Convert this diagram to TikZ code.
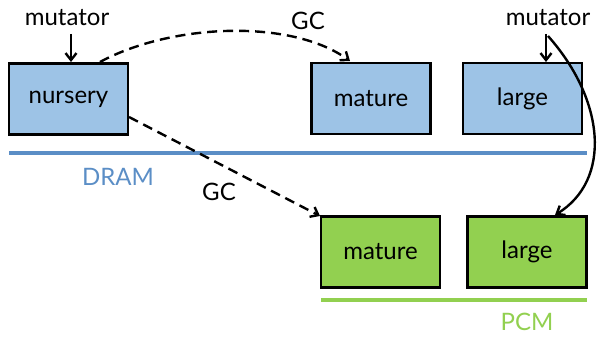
\documentclass[tikz,border=0pt]{standalone}
\usepackage{fontspec}
\setmainfont{Lato}
\usetikzlibrary{arrows.meta}
\definecolor{dramfill}{RGB}{157,195,230}
\definecolor{dramline}{RGB}{91,142,198}
\definecolor{pcmfill}{RGB}{146,208,80}
\definecolor{pcmline}{RGB}{146,208,80}
\tikzset{
  membox/.style={draw=black, line width=2.5pt, minimum width=119pt, minimum height=71pt, inner sep=0pt, font=\fontsize{24}{28}\selectfont},
  dram/.style={membox, fill=dramfill},
  pcm/.style={membox, fill=pcmfill},
  lbl/.style={font=\fontsize{24}{28}\selectfont, inner sep=0pt},
  conn/.style={line width=2.4pt, -{Straight Barb[length=7pt,width=11pt]}},
  gcconn/.style={conn, dash pattern=on 10pt off 6pt},
}
\begin{document}
\begin{tikzpicture}[x=1pt,y=-1pt]
\useasboundingbox (0,0) rectangle (598,337);
% boxes
\node[dram] (nursery) at (68.5,99) {nursery};
\node[dram] (dmature) at (371,98.5) {mature};
\node[dram] (dlarge) at (522.5,98.5) {large};
\node[pcm] (pmature) at (380.5,252) {mature};
\node[pcm] (plarge) at (527,252) {large};
% memory lines
\coordinate (dl1) at (9,153);
\coordinate (dl2) at (587,153);
\draw[dramline, line width=4.5pt] (dl1) -- (dl2);
\node[lbl, text=dramline] (dramlbl) at (118,177) {DRAM};
\coordinate (pl1) at (321,300);
\coordinate (pl2) at (587,300);
\draw[pcmline, line width=4.5pt] (pl1) -- (pl2);
\node[lbl, text=pcmline] (pcmlbl) at (527,322) {PCM};
% mutators
\node[lbl] (mut1) at (67,18) {mutator};
\node[lbl] (mut2) at (548,18) {mutator};
\coordinate (m1a) at (71,34);
\coordinate (m1b) at (71,62);
\draw[conn] (m1a) -- (m1b);
\coordinate (m2a) at (546,34);
\coordinate (m2b) at (546,62);
\draw[conn] (m2a) -- (m2b);
\coordinate (m2c) at (548,36);
\coordinate (m2d) at (555,215);
\draw[conn] (m2c) .. controls (605,100) and (612,180) .. (m2d);
% GC
\node[lbl] (gc1) at (308,21) {GC};
\node[lbl] (gc2) at (219,192) {GC};
\coordinate (g1a) at (100,62);
\coordinate (g1b) at (350,61);
\draw[gcconn] (g1a) .. controls (170,24) and (290,18) .. (g1b);
\coordinate (g2a) at (129,117);
\coordinate (g2b) at (320,216);
\draw[gcconn] (g2a) -- (g2b);
\end{tikzpicture}
\end{document}
